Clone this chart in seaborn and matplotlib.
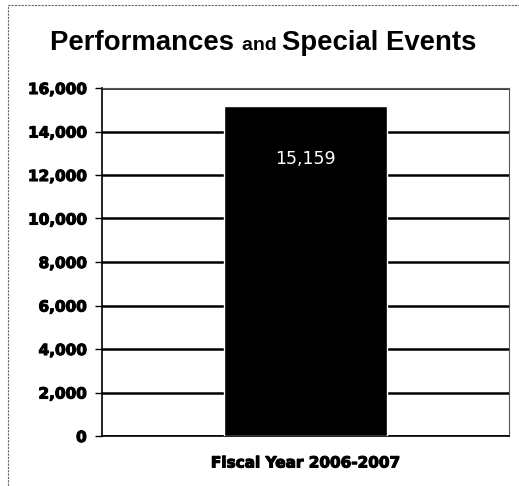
import matplotlib
matplotlib.use("Agg")
import matplotlib.pyplot as plt
import matplotlib.patheffects as pe
import seaborn as sns
import pandas as pd
from matplotlib.patches import Rectangle
from matplotlib.ticker import FuncFormatter, MultipleLocator

categories = ["Fiscal Year 2006-2007"]
values = [15159]
value_labels = ["15,159"]

sns.set_style("white")
plt.rcParams["font.family"] = ["DejaVu Sans"]
plt.rcParams["text.color"] = "black"
plt.rcParams["xtick.color"] = "black"
plt.rcParams["ytick.color"] = "black"

W, H = 519, 486
fig = plt.figure(figsize=(W / 100, H / 100), dpi=100)
ax = fig.add_axes([102 / W, (H - 436) / H, (509 - 102) / W, (436 - 88) / H])

df = pd.DataFrame({"period": categories, "count": values})
sns.barplot(data=df, x="period", y="count", color="black", width=0.4,
            saturation=1, ax=ax, zorder=3)
ax.set_xlim(-0.5, 0.5)
ax.set_ylim(0, 16000)
ax.yaxis.set_major_locator(MultipleLocator(2000))
ax.yaxis.set_major_formatter(FuncFormatter(lambda v, p: f"{int(v):,}"))
ax.grid(axis="y", color="black", linewidth=1.8, zorder=0)
ax.set_xlabel("")
ax.set_ylabel("")

heavy = [pe.withStroke(linewidth=0.8, foreground="black")]
for lab in ax.get_yticklabels() + ax.get_xticklabels():
    lab.set_family("DejaVu Sans")
    lab.set_fontweight("bold")
    lab.set_fontsize(11)
    lab.set_color("black")
    lab.set_path_effects(heavy)
ax.tick_params(axis="y", length=5, width=1, color="black", pad=6, left=True)
ax.tick_params(axis="x", length=0, pad=14)

for s in ["left", "bottom"]:
    ax.spines[s].set_color("black")
    ax.spines[s].set_linewidth(1.2)
for s in ["top", "right"]:
    ax.spines[s].set_color("#555555")
    ax.spines[s].set_linewidth(0.8)
    ax.spines[s].set_linestyle((0, (2, 1)))

# value label inside the bar
for i, (v, t) in enumerate(zip(values, value_labels)):
    ax.annotate(t, (i, v), xytext=(0, -38), textcoords="offset points",
                ha="center", va="center", color="white", fontsize=12.5,
                family="DejaVu Sans", zorder=5)

# title built from pieces with different sizes
pieces = [("Performances ", 19.8), ("and ", 14), ("Special Events", 19.8)]
renderer = fig.canvas.get_renderer()
texts = []
for s, size in pieces:
    t = fig.text(0, 1 - 50 / H, s, fontsize=size, fontweight="bold",
                 family="Liberation Sans", ha="left", va="baseline",
                 color="black")
    texts.append(t)
widths = [t.get_window_extent(renderer).width for t in texts]
x = 263 - sum(widths) / 2
for t, w in zip(texts, widths):
    t.set_x(x / W)
    x += w

# figure frame
fig.patches.append(Rectangle((8 / W, -0.05), 1.1, 1 - 5 / H + 0.05,
                             transform=fig.transFigure, fill=False,
                             edgecolor="#666666", linewidth=0.8,
                             linestyle=(0, (2, 1))))

fig.savefig("out.png", dpi=100)
